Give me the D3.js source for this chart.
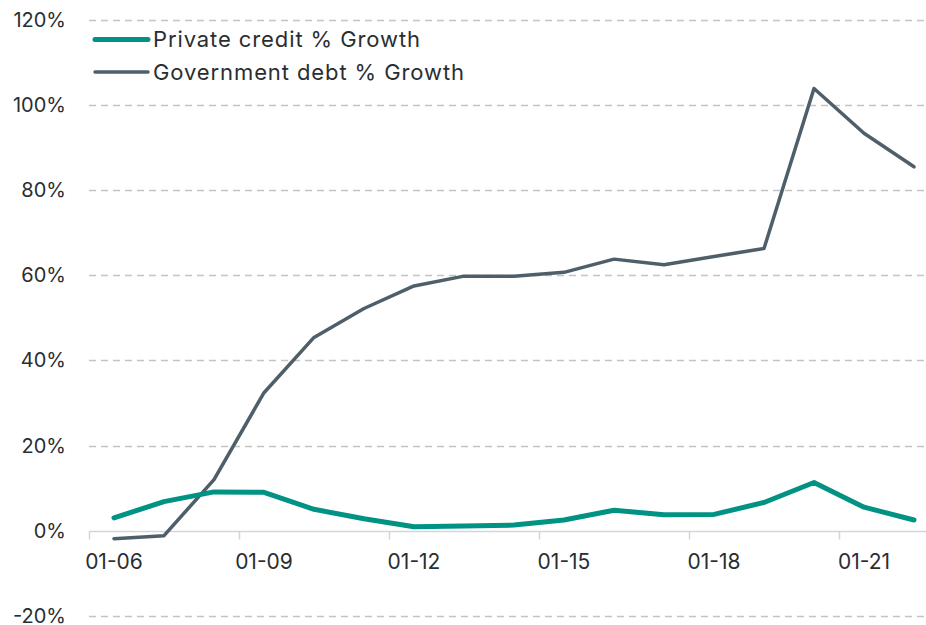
<!DOCTYPE html>
<html>
<head>
<meta charset="utf-8">
<script src="https://cdn.jsdelivr.net/npm/d3@7"></script>
<style>
  html, body { margin: 0; padding: 0; background: #fff; }
  svg { display: block; font-family: Inter, "Noto Sans", sans-serif; }
</style>
</head>
<body>
<div id="chart"></div>
<script>
// month-year categories, one per year
const categories = ["01-06", "01-07", "01-08", "01-09", "01-10", "01-11", "01-12", "01-13", "01-14",
    "01-15", "01-16", "01-17", "01-18", "01-19", "01-20", "01-21", "01-22"];

const privateCredit = [3.0, 6.8, 9.1, 9.0, 5.0, 2.8, 0.9, 1.1, 1.3, 2.5, 4.8, 3.7, 3.8, 6.6, 11.3, 5.5, 2.5];
const governmentDebt = [-1.9, -1.2, 12.0, 32.4, 45.4, 52.2, 57.5, 59.8, 59.8, 60.7, 63.8, 62.5, 64.4, 66.3, 103.9, 93.4, 85.5];

const yTicks = [-20, 0, 20, 40, 60, 80, 100, 120];

const series = [
    { name: "Private credit % Growth", values: privateCredit, color: "#009383", width: 5 },
    { name: "Government debt % Growth", values: governmentDebt, color: "#4f5f69", width: 3.5 }
];

const width = 926, height = 625;
const margin = { top: 20, right: -13, bottom: 9.3, left: 89 };

const svg = d3.select("#chart").append("svg")
    .attr("width", width)
    .attr("height", height);

const x = d3.scaleBand()
    .domain(categories)
    .range([margin.left, width - margin.right])
    .padding(0);

const y = d3.scaleLinear()
    .domain([-20, 120])
    .range([height - margin.bottom, margin.top]);

const cx = d => x(d) + x.bandwidth() / 2;

// gridlines
svg.append("g")
    .selectAll("line")
    .data(yTicks.filter(t => t !== 0))
    .join("line")
    .attr("x1", margin.left)
    .attr("x2", width)
    .attr("y1", d => Math.round(y(d)) + 0.5)
    .attr("y2", d => Math.round(y(d)) + 0.5)
    .attr("stroke", "#c4c4c4")
    .attr("stroke-width", 1.3)
    .attr("stroke-dasharray", "7,5");

// y labels
svg.append("g")
    .selectAll("text")
    .data(yTicks)
    .join("text")
    .attr("x", 66)
    .attr("y", d => y(d))
    .attr("dy", "0.35em")
    .attr("text-anchor", "end")
    .attr("font-size", 20)
    .attr("fill", "#2a2e31")
    .text(d => d + "%");

// category axis at 0
const axisY = Math.round(y(0)) + 0.5;
svg.append("line")
    .attr("x1", margin.left)
    .attr("x2", width)
    .attr("y1", axisY)
    .attr("y2", axisY)
    .attr("stroke", "#d0d6d9")
    .attr("stroke-width", 1.5);

const shown = categories.filter((c, i) => i % 3 === 0);

svg.append("g")
    .selectAll("line")
    .data(shown)
    .join("line")
    .attr("x1", d => Math.round(x(d)) + 0.5)
    .attr("x2", d => Math.round(x(d)) + 0.5)
    .attr("y1", axisY)
    .attr("y2", axisY + 8)
    .attr("stroke", "#d0d6d9")
    .attr("stroke-width", 1.5);

svg.append("g")
    .selectAll("text")
    .data(shown)
    .join("text")
    .attr("x", d => cx(d))
    .attr("y", 568.5)
    .attr("text-anchor", "middle")
    .attr("font-size", 21)
    .attr("fill", "#2a2e31")
    .text(d => d);

// lines
const line = d3.line()
    .x((d, i) => cx(categories[i]))
    .y(d => y(d));

svg.append("g")
    .selectAll("path")
    .data(series.slice().reverse())
    .join("path")
    .attr("fill", "none")
    .attr("stroke", d => d.color)
    .attr("stroke-width", d => d.width)
    .attr("stroke-linejoin", "round")
    .attr("stroke-linecap", "round")
    .attr("d", d => line(d.values));

// legend
const legend = svg.append("g")
    .selectAll("g")
    .data(series)
    .join("g")
    .attr("transform", (d, i) => `translate(95, ${39.5 + i * 32.5})`);

legend.append("line")
    .attr("x1", 0)
    .attr("x2", 53)
    .attr("stroke", d => d.color)
    .attr("stroke-width", d => d.width)
    .attr("stroke-linecap", "round");

legend.append("text")
    .attr("x", 58)
    .attr("dy", "0.35em")
    .attr("font-size", 22)
    .attr("letter-spacing", 0.9)
    .attr("fill", "#2a2e31")
    .text(d => d.name);
</script>
</body>
</html>
